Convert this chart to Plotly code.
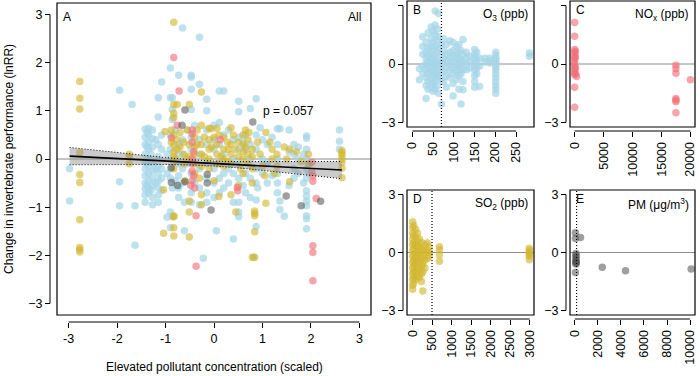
import plotly.graph_objects as go

# ---------------- data ----------------
# Panel A: scaled concentration vs lnRR, by pollutant
o3_main = [
    (-2.98, -0.2), (-2.98, -0.87),
    (-1.95, 1.43), (-1.95, -0.47), (-1.95, -0.97),
    (-1.69, 1.13), (-1.63, -0.97), (-1.63, -1.79),
    (-1.42, 0.62), (-1.42, 0.45), (-1.42, 0.30), (-1.42, 0.10), (-1.42, -0.05), (-1.42, -0.20),
    (-1.42, -0.35), (-1.42, -0.50), (-1.42, -0.62), (-1.42, -0.75), (-1.42, -0.90),
    (-1.38, 0.55), (-1.38, 0.25), (-1.38, -0.10), (-1.38, -0.55),
    (-1.35, 0.64), (-1.35, 0.50), (-1.35, 0.35), (-1.35, 0.20), (-1.35, 0.00), (-1.35, -0.15),
    (-1.35, -0.30), (-1.35, -0.45), (-1.35, -0.60), (-1.35, -0.70),
    (-1.30, 0.10), (-1.30, -0.65),
    (-1.27, 0.60), (-1.27, 0.42), (-1.27, 0.25), (-1.27, -0.10), (-1.27, -0.25), (-1.27, -0.40),
    (-1.27, -0.55), (-1.27, -0.80), (-1.27, -0.95),
    (-1.20, 0.40), (-1.20, -0.20), (-1.20, -0.50),
    (-1.15, 1.27), (-1.15, 0.87), (-1.15, 0.30), (-1.15, 0.05), (-1.15, -0.15), (-1.15, -0.30),
    (-1.15, -0.45), (-1.15, -0.60), (-1.15, -0.75), (-1.15, -0.90),
    (-1.08, 1.60), (-1.08, 0.50), (-1.08, 0.20), (-1.08, -0.20), (-1.08, -0.40), (-1.08, -0.65),
    (-0.97, -1.21), (-0.97, -0.30), (-0.97, 0.10),
    (-0.90, 1.89), (-0.90, 1.27), (-0.90, 0.50), (-0.90, 0.20), (-0.90, 0.00), (-0.90, -0.20),
    (-0.90, -0.40), (-0.90, -1.10), (-0.90, -1.43),
    (-0.86, 1.27), (-0.86, 1.03), (-0.86, 0.82), (-0.86, -0.60), (-0.86, -1.20),
    (-0.80, 0.60), (-0.80, -0.45),
    (-0.73, 1.74), (-0.73, 0.30), (-0.73, 0.10), (-0.73, -0.10), (-0.73, -0.35), (-0.73, -0.60), (-0.73, -0.80),
    (-0.65, 2.72), (-0.65, 0.40), (-0.65, 0.10), (-0.65, -0.20), (-0.65, -0.50),
    (-0.61, -1.49), (-0.61, -0.90),
    (-0.55, 0.60), (-0.55, -0.10),
    (-0.47, 1.74), (-0.47, 1.70), (-0.47, 1.45), (-0.47, 1.03), (-0.47, 0.45), (-0.47, 0.20),
    (-0.47, -0.30), (-0.47, -0.70), (-0.47, -0.90),
    (-0.40, 0.70), (-0.40, -0.50),
    (-0.30, 2.53), (-0.30, 1.55), (-0.30, 0.40), (-0.30, 0.10), (-0.30, -0.20), (-0.30, -0.60), (-0.30, -0.95),
    (-0.22, -2.06),
    (-0.15, 1.24), (-0.15, 1.00), (-0.15, 0.60), (-0.15, 0.30), (-0.15, -0.10), (-0.15, -0.40),
    (-0.15, -0.70), (-0.15, -0.90),
    (0.00, 0.70), (0.00, 0.40), (0.00, 0.20), (0.00, -0.20), (0.00, -0.50), (0.00, -0.80),
    (0.05, -1.49),
    (0.11, 1.41), (0.11, 0.76), (0.11, 0.30), (0.11, -0.10), (0.11, -0.40), (0.11, -0.70),
    (0.20, 1.41), (0.20, 0.50), (0.20, 0.10), (0.20, -0.30), (0.20, -0.60),
    (0.30, 0.60), (0.30, -0.20), (0.30, -0.50),
    (0.40, -1.66), (0.40, 0.40), (0.40, 0.00), (0.40, -0.30), (0.40, -0.90),
    (0.51, 1.20), (0.51, 0.98), (0.51, 0.45), (0.51, 0.20), (0.51, -0.10), (0.51, -0.40),
    (0.51, -0.90), (0.51, -1.10), (0.51, -1.20),
    (0.60, 0.35), (0.60, -0.55),
    (0.65, 0.50), (0.65, 0.20), (0.65, -0.30), (0.65, -0.70),
    (0.75, 1.05), (0.75, 0.30), (0.75, 0.00), (0.75, -0.40), (0.75, -0.80),
    (0.87, 1.25), (0.87, 0.50), (0.87, 0.20), (0.87, -0.20), (0.87, -0.50), (0.87, -0.85),
    (0.87, -1.40), (0.82, -2.04),
    (0.90, -0.60), (0.95, 0.65),
    (1.00, 0.40), (1.00, 0.00), (1.00, -0.30),
    (1.10, 0.30), (1.10, -0.10), (1.10, -0.50),
    (1.20, 0.45), (1.20, -0.35),
    (1.31, 0.63), (1.31, 0.30), (1.31, 0.00), (1.31, -0.30), (1.31, -0.50), (1.31, -0.70),
    (1.36, 0.63), (1.36, -0.87), (1.36, -1.05),
    (1.45, -1.19),
    (1.55, 0.60), (1.55, 0.15), (1.55, -0.55),
    (1.65, 0.30), (1.65, 0.10), (1.65, -0.20), (1.65, -0.40),
    (1.74, 0.25), (1.74, 0.00), (1.74, -0.30),
    (1.85, 0.10), (1.85, -0.50),
    (1.91, 0.48), (1.91, 0.43), (1.91, 0.20), (1.91, 0.00), (1.91, -0.20), (1.91, -0.40),
    (1.91, -0.66), (1.91, -0.77), (1.91, -0.87), (1.91, -0.97), (1.91, -1.18), (1.91, -1.24), (1.91, -1.45),
    (1.96, -0.10), (1.96, -0.30),
    (2.59, 0.60), (2.59, 0.37), (2.59, 0.20),
]
so2_main = [
    (-2.77, 1.61), (-2.77, 1.26), (-2.77, 1.04), (-2.77, 0.13), (-2.77, -0.32), (-2.77, -0.49),
    (-2.77, -1.26), (-2.77, -1.84), (-2.77, -1.88), (-2.77, -1.93),
    (-1.75, 0.10), (-1.75, 0.03), (-1.75, -0.10),
    (-1.04, -0.64), (-1.04, -1.54), (-1.01, 0.57),
    (-0.88, 0.60), (-0.88, 0.35),
    (-0.83, 2.84), (-0.83, 1.13), (-0.83, 0.95), (-0.83, 0.86), (-0.83, 0.50), (-0.83, 0.30),
    (-0.83, 0.15), (-0.83, 0.05), (-0.83, -0.05), (-0.83, -0.20), (-0.83, -1.18), (-0.83, -1.20),
    (-0.83, -1.43), (-0.83, -1.60),
    (-0.80, 0.00),
    (-0.76, 1.13), (-0.76, 0.40), (-0.76, 0.20),
    (-0.70, 0.55), (-0.70, 0.25),
    (-0.62, 0.35), (-0.62, 0.10), (-0.62, -0.10),
    (-0.60, -0.45),
    (-0.55, 0.60), (-0.55, 0.00),
    (-0.51, 1.13), (-0.51, 0.30), (-0.51, 0.05), (-0.51, -0.87), (-0.51, -1.10), (-0.51, -1.62),
    (-0.40, 0.45), (-0.40, 0.25), (-0.40, 0.10), (-0.40, -0.10), (-0.40, -0.30),
    (-0.35, 0.60), (-0.35, 0.30), (-0.30, -0.40),
    (-0.26, 1.39), (-0.26, 0.70), (-0.26, 0.30), (-0.26, 0.10), (-0.26, -0.15), (-0.26, -0.74), (-0.26, -0.95),
    (-0.20, 0.45), (-0.20, 0.05),
    (-0.10, 0.64), (-0.10, 0.40), (-0.10, 0.20), (-0.10, 0.00), (-0.10, -0.20),
    (-0.06, 0.63), (-0.05, 0.25),
    (0.00, 0.45), (0.00, -0.45),
    (0.06, 0.64), (0.06, 0.30), (0.06, 0.10), (0.06, -0.10),
    (0.10, -0.78), (0.10, 0.50), (0.15, 0.05),
    (0.20, 0.45), (0.20, 0.20), (0.20, 0.00), (0.20, -0.15),
    (0.28, 0.35), (0.28, -0.05), (0.30, 0.20),
    (0.35, 0.65), (0.35, 0.30), (0.35, 0.10), (0.35, -0.10), (0.35, -0.74),
    (0.40, 0.50),
    (0.45, -1.10), (0.45, 0.20),
    (0.50, 0.35), (0.50, 0.05), (0.50, -0.55), (0.55, -0.20),
    (0.60, 0.50), (0.60, 0.30), (0.60, 0.15), (0.60, 0.00), (0.60, -0.30),
    (0.65, 0.60), (0.65, 0.25),
    (0.70, 0.40), (0.70, 0.10), (0.70, -0.10), (0.72, 0.55),
    (0.79, 0.20), (0.79, 0.05), (0.79, -0.20), (0.79, -0.50), (0.79, -2.04),
    (0.84, -1.08), (0.84, -1.13), (0.84, -1.18), (0.84, -1.51), (0.84, -2.04),
    (0.90, 0.35), (0.95, 0.10), (1.00, -0.15), (1.05, -0.35),
    (1.07, 0.55), (1.07, -0.92),
    (1.15, 0.35),
    (1.20, 0.20), (1.20, 0.00), (1.25, -0.30),
    (1.30, 0.10), (1.30, -0.15),
    (1.45, 0.25), (1.50, 0.00),
    (1.56, 0.20), (1.56, -0.47),
    (1.70, 0.15), (1.80, -0.05),
    (1.95, 0.10), (1.95, -0.10),
    (2.64, 0.17), (2.64, 0.13), (2.64, 0.08), (2.64, 0.00), (2.64, -0.08), (2.64, -0.19), (2.64, -0.39),
]
nox_main = [
    (-0.83, 2.11), (-0.72, 1.41), (-0.76, 0.70), (-0.88, 0.44),
    (-0.45, 0.60), (-0.45, 0.52), (-0.45, 0.35), (-0.42, 0.15), (-0.45, 0.00), (-0.45, -0.10),
    (-0.45, -0.25), (-0.42, -0.35), (-0.45, -0.45), (-0.48, -0.55), (-0.40, -0.60),
    (-0.37, -1.18), (-0.37, -2.23),
    (0.13, 0.40), (0.48, -0.59), (0.49, -0.66),
    (2.02, -0.07), (2.02, -0.27), (2.04, -0.35), (2.04, -0.46), (2.11, -0.82),
    (2.04, -1.80), (2.04, -1.94), (2.04, -2.53),
]
pm_main = [
    (-0.60, 1.02), (-0.66, 0.70), (0.80, 0.77),
    (-0.88, -0.18), (-0.88, -0.49), (-0.75, -0.55), (-0.60, -0.47),
    (-0.14, -0.32), (-0.14, -0.50), (-0.06, -1.06),
    (1.49, -0.77), (1.80, -0.97), (2.20, -0.88),
]

# fitted meta-regression line with 95% CI
fit_x = [-2.98, -2.5, -2.0, -1.5, -1.0, -0.5, 0.0, 0.5, 1.0, 1.5, 2.0, 2.3, 2.64]
fit_y = [0.06, 0.035, 0.009, -0.016, -0.042, -0.068, -0.094, -0.120, -0.145, -0.171, -0.197, -0.213, -0.23]
fit_upper = [0.24, 0.187, 0.132, 0.080, 0.030, -0.014, -0.043, -0.055, -0.057, -0.057, -0.054, -0.053, -0.05]
fit_lower = [-0.12, -0.117, -0.114, -0.112, -0.114, -0.122, -0.145, -0.185, -0.233, -0.285, -0.34, -0.373, -0.41]

# Panels B-E: raw concentration vs lnRR
o3_raw = [
    (17, -0.81), (17, -0.25),
    (25, 1.4), (25, 0.9), (25, 0.5), (25, -0.1), (25, -0.5),
    (33, 1.1), (33, 0.6), (33, 0.3), (33, 0.0), (33, -0.3), (33, -0.7), (33, -1.1), (33, -1.77),
    (38, 1.6), (38, 0.8), (38, 0.4), (38, 0.1), (38, -0.2), (38, -0.5), (38, -0.9), (38, -1.3),
    (45, 1.9), (45, 1.3), (45, 0.9), (45, 0.5), (45, 0.2), (45, -0.1), (45, -0.4), (45, -0.8), (45, -1.2),
    (50, 1.7), (50, 1.1), (50, 0.7), (50, 0.3), (50, 0.0), (50, -0.3), (50, -0.6), (50, -1.0), (50, -1.4),
    (55, 2.73), (55, 2.0), (55, 1.5), (55, 0.9), (55, 0.4), (55, 0.1), (55, -0.2), (55, -0.5), (55, -0.9), (55, -1.3),
    (60, 1.8), (60, 1.2), (60, 0.6), (60, 0.2), (60, -0.1), (60, -0.4), (60, -0.7), (60, -1.1),
    (63, 2.6), (63, 1.4), (63, 0.8), (63, 0.0), (63, -0.6), (63, -1.5),
    (70, 1.0), (70, 0.5), (70, 0.1), (70, -0.3), (70, -0.8), (70, -2.06),
    (75, 1.3), (75, 0.7), (75, 0.3), (75, 0.0), (75, -0.4), (75, -0.9),
    (82, 1.0), (82, 0.5), (82, 0.2), (82, -0.2), (82, -0.6), (82, -1.2),
    (90, 1.2), (90, 0.6), (90, 0.3), (90, 0.0), (90, -0.3), (90, -0.7),
    (98, 1.1), (98, 0.7), (98, 0.4), (98, 0.1), (98, -0.2), (98, -0.5), (98, -1.0), (98, -1.65),
    (106, 0.9), (106, 0.5), (106, 0.2), (106, -0.1), (106, -0.4), (106, -0.8),
    (112, 1.0), (112, 0.6), (112, 0.3), (112, 0.0), (112, -0.3), (112, -0.6), (112, -1.3),
    (117, 0.7), (117, 0.2), (117, -0.2), (117, -0.5), (117, -2.06),
    (122, 1.26), (122, 0.5), (122, 0.1), (122, -0.3), (122, -0.9), (122, -1.33),
    (130, 0.6), (130, 0.3), (130, 0.0), (130, -0.3),
    (138, 0.4), (138, 0.1), (138, -0.2),
    (150, 0.74), (150, 0.5), (150, 0.3), (150, 0.1), (150, -0.1), (150, -0.3), (150, -0.6), (150, -0.9), (150, -1.2),
    (155, 0.6), (155, 0.2), (155, -0.2), (155, -0.5),
    (162, 0.3), (162, -0.1), (162, -1.16),
    (175, 0.3), (175, 0.1),
    (187, 0.3), (187, 0.15), (187, 0.05),
    (201, 0.61), (201, 0.45), (201, 0.3), (201, 0.15), (201, 0.0), (201, -0.15), (201, -0.3),
    (201, -0.5), (201, -0.7), (201, -0.9), (201, -1.1), (201, -1.3), (201, -1.5),
    (282, 0.57), (282, 0.40),
]
nox_raw = [
    (0, 2.13), (0, 1.43), (0, 0.74), (0, 0.6), (0, 0.45), (0, 0.3), (0, 0.15), (0, 0.0),
    (0, -0.15), (0, -0.3), (0, -0.45), (0, -0.55), (0, -1.19), (0, -2.23),
    (150, 0.65), (150, 0.35), (150, -0.2), (150, -0.5), (350, -0.64),
    (17500, -0.07), (17500, -0.24), (17500, -0.47), (17500, -1.77), (17500, -1.85),
    (17500, -1.94), (17500, -2.51), (20000, -0.81),
]
so2_raw = [
    (5, 1.6), (5, 1.3), (5, 1.0), (5, 0.7), (5, 0.4), (5, 0.1), (5, -0.2), (5, -0.5), (5, -0.8),
    (5, -1.1), (5, -1.4), (5, -1.7), (5, -1.9),
    (30, 1.4), (30, 0.9), (30, 0.5), (30, 0.2), (30, -0.1), (30, -0.4), (30, -0.7), (30, -1.0), (30, -1.3), (30, -1.6),
    (80, 1.2), (80, 0.8), (80, 0.4), (80, 0.0), (80, -0.3), (80, -0.6), (80, -1.0), (80, -1.4),
    (130, 1.0), (130, 0.6), (130, 0.3), (130, 0.0), (130, -0.4), (130, -0.8), (130, -1.2),
    (180, 0.7), (180, 0.3), (180, -0.1), (180, -0.5), (180, -0.9), (180, -1.3),
    (230, 0.5), (230, 0.1), (230, -0.3), (230, -0.7), (230, -1.1), (230, -1.5),
    (265, 0.2), (265, -0.2), (265, -0.6), (265, -1.0), (265, -2.0),
    (320, 0.4), (320, 0.0), (320, -0.4), (320, -0.8),
    (380, 0.5), (380, 0.1), (380, -0.3),
    (430, 0.3), (430, 0.0), (430, -0.2),
    (690, 0.3), (690, 0.14), (690, -0.12), (690, -0.46),
    (2990, 0.22), (2990, 0.1), (2990, 0.0), (2990, -0.1), (2990, -0.2), (2990, -0.37),
]
pm_raw = [
    (50, 1.02), (50, 0.73), (50, -1.04),
    (100, -0.05), (100, -0.15), (100, -0.25), (100, -0.35), (100, -0.45), (100, -0.5), (100, -0.55), (100, -0.6),
    (490, 0.78), (2380, -0.76), (4400, -0.95), (10100, -0.86),
]

# thresholds (dotted lines)
o3_threshold = 70
so2_threshold = 500
pm_threshold = 150

main_ticks = [-3, -2, -1, 0, 1, 2, 3]
small_yticks = [-3, 0, 3]
o3_ticks = [0, 50, 100, 150, 200, 250]
nox_ticks = [0, 5000, 10000, 15000, 20000]
so2_ticks = [0, 500, 1000, 1500, 2000, 2500, 3000]
pm_ticks = [0, 2000, 4000, 6000, 8000, 10000]

# ---------------- styling ----------------
BLUE = "rgba(165,214,232,0.72)"
YELLOW = "rgba(210,182,45,0.62)"
RED = "rgba(242,110,120,0.62)"
GRAY = "rgba(80,80,80,0.55)"
FONT = "Liberation Sans, Arial, sans-serif"
W, H = 700, 376

def px(v):
    return v / W

def py(v):
    return 1 - v / H

fig = go.Figure()

def scatter(pts, color, xa, ya, size=7.5):
    fig.add_trace(go.Scatter(
        x=[p[0] for p in pts], y=[p[1] for p in pts], mode="markers",
        marker=dict(color=color, size=size, line=dict(width=0)),
        xaxis=xa, yaxis=ya, showlegend=False, hoverinfo="skip", cliponaxis=False))

# Panel A
scatter(o3_main, BLUE, "x", "y")
scatter(so2_main, YELLOW, "x", "y")
scatter(nox_main, RED, "x", "y")
scatter(pm_main, GRAY, "x", "y")
fig.add_trace(go.Scatter(x=fit_x + fit_x[::-1], y=fit_upper + fit_lower[::-1], fill="toself",
                         fillcolor="rgba(140,140,140,0.45)", line=dict(width=0), mode="lines",
                         xaxis="x", yaxis="y", showlegend=False, hoverinfo="skip"))
for band in (fit_upper, fit_lower):
    fig.add_trace(go.Scatter(x=fit_x, y=band, mode="lines", line=dict(color="black", width=1, dash="1px,2px"),
                             xaxis="x", yaxis="y", showlegend=False, hoverinfo="skip"))
fig.add_trace(go.Scatter(x=fit_x, y=fit_y, mode="lines", line=dict(color="black", width=1.6),
                         xaxis="x", yaxis="y", showlegend=False, hoverinfo="skip"))

# Small panels
scatter(o3_raw, BLUE, "x2", "y2")
scatter(nox_raw, RED, "x3", "y3")
scatter(so2_raw, YELLOW, "x4", "y4")
scatter(pm_raw, GRAY, "x5", "y5")

# panel geometry in pixels: (left, right, top, bottom)
boxes = {
    "": (57, 371, 3, 315),
    "2": (407, 534, 1, 127),
    "3": (570, 695, 1, 127),
    "4": (407, 534, 190, 315),
    "5": (570, 695, 190, 315),
}
xranges = {"": [-3.24, 3.24], "2": [-13, 293], "3": [-800, 20800], "4": [-140, 3110], "5": [-420, 10430]}
xticks = {"": main_ticks, "2": o3_ticks, "3": nox_ticks, "4": so2_ticks, "5": pm_ticks}
axis_gap = {"": 7, "2": 4, "3": 4, "4": 4, "5": 4}

tickfont = dict(family=FONT, size=12.5, color="black")
shapes = []
layout_axes = {}
for k, (l, r, t, b) in boxes.items():
    xname = "xaxis" + k
    yname = "yaxis" + k
    gap = axis_gap[k]
    xt = xticks[k]
    yt = main_ticks if k == "" else small_yticks
    layout_axes[xname] = dict(
        domain=[px(l), px(r)], range=xranges[k], anchor="free", position=py(b + gap),
        tickmode="array", tickvals=xt, ticktext=[str(v) for v in xt],
        ticks="outside", ticklen=5, tickwidth=1, tickcolor="black", automargin=False,
        showgrid=False, zeroline=False, showline=False, tickfont=tickfont,
        tickangle=0 if k == "" else -90, fixedrange=True)
    layout_axes[yname] = dict(
        domain=[py(b), py(t)], range=[-3.24, 3.24], anchor="free", position=px(l - gap),
        tickmode="array", tickvals=yt, ticktext=[("\u2212" + str(-v)) if v < 0 else str(v) for v in yt],
        ticks="outside", ticklen=5, tickwidth=1, tickcolor="black", automargin=False,
        showgrid=False, zeroline=False, showline=False, tickfont=tickfont, fixedrange=True)
    xr = "x" + k if k else "x"
    yr = "y" + k if k else "y"
    # frame
    shapes.append(dict(type="rect", xref=xr + " domain", yref=yr + " domain", x0=0, x1=1, y0=0, y1=1,
                       line=dict(color="black", width=1.2), layer="above"))
    # axis lines spanning first..last tick
    shapes.append(dict(type="line", xref=xr, yref="paper", x0=xt[0], x1=xt[-1],
                       y0=py(b + gap), y1=py(b + gap), line=dict(color="black", width=1)))
    shapes.append(dict(type="line", xref="paper", yref=yr, x0=px(l - gap), x1=px(l - gap),
                       y0=yt[0], y1=yt[-1], line=dict(color="black", width=1)))
    # zero line
    shapes.append(dict(type="line", xref=xr + " domain", yref=yr, x0=0, x1=1, y0=0, y1=0,
                       line=dict(color="#8c8c8c", width=1), layer="below"))

for xr, yr, thr in (("x2", "y2", o3_threshold), ("x4", "y4", so2_threshold), ("x5", "y5", pm_threshold)):
    shapes.append(dict(type="line", xref=xr, yref=yr + " domain", x0=thr, x1=thr, y0=0, y1=1,
                       line=dict(color="black", width=1.2, dash="1px,2px")))

afont = dict(family=FONT, size=12, color="black")
annotations = [
    dict(text="A", xref="x domain", yref="y domain", x=0.014, y=0.985, xanchor="left", yanchor="top",
         showarrow=False, font=afont),
    dict(text="All", xref="x domain", yref="y domain", x=0.975, y=0.985, xanchor="right", yanchor="top",
         showarrow=False, font=afont),
    dict(text="p = 0.057", xref="x", yref="y", x=0.97, y=1.0, xanchor="left", yanchor="middle",
         showarrow=False, font=afont),
    dict(text="Elevated pollutant concentration (scaled)", xref="paper", yref="paper", x=px(214), y=py(367),
         xanchor="center", yanchor="middle", showarrow=False, font=afont),
    dict(text="Change in invertebrate performance (lnRR)", xref="paper", yref="paper", x=px(9), y=py(159),
         xanchor="center", yanchor="middle", textangle=-90, showarrow=False, font=afont),
]
panel_labels = [
    ("2", "B", "O<sub>3</sub> (ppb)"),
    ("3", "C", "NO<sub>x</sub> (ppb)"),
    ("4", "D", "SO<sub>2</sub> (ppb)"),
    ("5", "E", "PM (\u03bcg/m<sup>3</sup>)"),
]
for k, letter, label in panel_labels:
    annotations.append(dict(text=letter, xref="x" + k + " domain", yref="y" + k + " domain", x=0.03, y=1.0,
                            xanchor="left", yanchor="top", showarrow=False, font=afont))
    annotations.append(dict(text=label, xref="x" + k + " domain", yref="y" + k + " domain", x=0.97, y=0.97,
                            xanchor="right", yanchor="top", showarrow=False, font=afont))

fig.update_layout(
    width=W, height=H, margin=dict(l=0, r=0, t=0, b=0, autoexpand=False),
    paper_bgcolor="white", plot_bgcolor="rgba(0,0,0,0)",
    shapes=shapes, annotations=annotations, showlegend=False,
    **layout_axes,
)

# remove the page's default 8px body margin so the figure fills the window exactly
fig.write_html("out.html", config={"displayModeBar": False},
               post_script="document.body.style.margin='0';document.body.style.padding='0';")
